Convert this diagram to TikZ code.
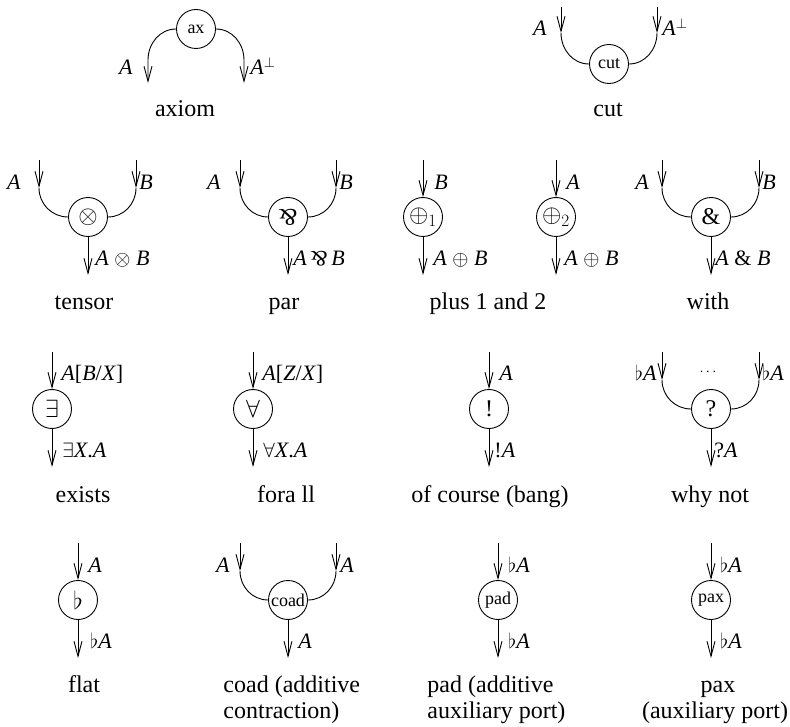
\documentclass[tikz,border=0pt]{standalone}
\usepackage{fontspec}
\setmainfont{Liberation Serif}
\usetikzlibrary{arrows.meta}
\newcommand\iA{\textit{A}}
\newcommand\iB{\textit{B}}
\newcommand\iX{\textit{X}}
\newcommand\iZ{\textit{Z}}
\newcommand\parrsym{\rotatebox[origin=c]{180}{\&}}
\newcommand\flt{$\flat$}
\begin{document}
\begin{tikzpicture}[x=1pt,y=1pt,line width=0.9pt,
  gate/.style={circle,draw,minimum size=39pt,inner sep=0pt,font=\fontsize{24}{26}\selectfont},
  wgate/.style={gate,font=\fontsize{18}{20}\selectfont},
  lbl/.style={inner sep=0pt,font=\fontsize{22}{24}\selectfont},
  captxt/.style={inner sep=0pt,font=\fontsize{24}{26}\selectfont},
  arr/.style={-{Straight Barb[length=15pt,width=8pt]}}
]
\useasboundingbox (0,0) rectangle (790,-727);

% ---------- axiom ----------
\node[wgate] (ax) at (196,-29) {ax};
\coordinate (axL) at (148,-60); \coordinate (axLt) at (148,-83);
\coordinate (axR) at (244,-60); \coordinate (axRt) at (244,-83);
\draw[arr] (ax.west) to[out=180,in=90] (axL) -- (axLt);
\draw[arr] (ax.east) to[out=0,in=90] (axR) -- (axRt);
\node[lbl,anchor=base] (axlA) at (126,-75) {\iA};
\node[lbl,anchor=base west] (axlB) at (250,-75) {\iA$^{\perp}$};
\node[captxt,anchor=base] (axcap) at (185,-117) {axiom};

% ---------- cut ----------
\node[wgate] (cut) at (609,-64) {cut};
\coordinate (cutLi) at (561,-7); \coordinate (cutLt) at (561,-33);
\coordinate (cutRi) at (657,-7); \coordinate (cutRt) at (657,-33);
\draw[arr] (cutLi) -- (cutLt);
\draw (cutLt) to[out=-90,in=180] (cut.west);
\draw[arr] (cutRi) -- (cutRt);
\draw (cutRt) to[out=-90,in=0] (cut.east);
\node[lbl,anchor=base] (cutlA) at (540,-36) {\iA};
\node[lbl,anchor=base west] (cutlB) at (662,-36) {\iA$^{\perp}$};
\node[captxt,anchor=base] (cutcap) at (608,-117) {cut};

% ---------- tensor ----------
\node[gate] (ten) at (88,-217) {$\otimes$};
\coordinate (tenLi) at (39,-160); \coordinate (tenLt) at (39,-188);
\coordinate (tenRi) at (136,-160); \coordinate (tenRt) at (136,-188);
\coordinate (tenO) at (88,-275);
\draw[arr] (tenLi) -- (tenLt);
\draw (tenLt) to[out=-90,in=180] (ten.west);
\draw[arr] (tenRi) -- (tenRt);
\draw (tenRt) to[out=-90,in=0] (ten.east);
\draw[arr] (ten.south) -- (tenO);
\node[lbl,anchor=base] (tenlA) at (14,-190) {\iA};
\node[lbl,anchor=base west] (tenlB) at (139,-190) {\iB};
\node[lbl,anchor=base west] (tenlO) at (95,-266) {\iA\ $\otimes$\ \iB};
\node[captxt,anchor=base] (tencap) at (84,-310) {tensor};

% ---------- par ----------
\node[gate] (par) at (288,-217) {\parrsym};
\coordinate (parLi) at (240,-160); \coordinate (parLt) at (240,-188);
\coordinate (parRi) at (336,-160); \coordinate (parRt) at (336,-188);
\coordinate (parO) at (288,-275);
\draw[arr] (parLi) -- (parLt);
\draw (parLt) to[out=-90,in=180] (par.west);
\draw[arr] (parRi) -- (parRt);
\draw (parRt) to[out=-90,in=0] (par.east);
\draw[arr] (par.south) -- (parO);
\node[lbl,anchor=base] (parlA) at (214,-190) {\iA};
\node[lbl,anchor=base west] (parlB) at (339,-190) {\iB};
\node[lbl,anchor=base west] (parlO) at (293,-266) {\iA\,\parrsym\,\iB};
\node[captxt,anchor=base] (parcap) at (284,-310) {par};

% ---------- plus 1 ----------
\node[gate] (pl1) at (423,-217) {$\oplus_1$};
\coordinate (pl1i) at (423,-160);
\coordinate (pl1O) at (423,-275);
\draw[arr] (pl1i) -- (pl1.north);
\draw[arr] (pl1.south) -- (pl1O);
\node[lbl,anchor=base west] (pl1lB) at (434,-190) {\iB};
\node[lbl,anchor=base west] (pl1lO) at (433,-266) {\iA\ $\oplus$\ \iB};

% ---------- plus 2 ----------
\node[gate] (pl2) at (556,-217) {$\oplus_2$};
\coordinate (pl2i) at (556,-160);
\coordinate (pl2O) at (556,-275);
\draw[arr] (pl2i) -- (pl2.north);
\draw[arr] (pl2.south) -- (pl2O);
\node[lbl,anchor=base west] (pl2lA) at (566,-190) {\iA};
\node[lbl,anchor=base west] (pl2lO) at (564,-266) {\iA\ $\oplus$\ \iB};
\node[captxt,anchor=base] (plcap) at (488,-310) {plus 1 and 2};

% ---------- with ----------
\node[gate] (with) at (711,-217) {\&};
\coordinate (wLi) at (662,-160); \coordinate (wLt) at (662,-188);
\coordinate (wRi) at (759,-160); \coordinate (wRt) at (759,-188);
\coordinate (wO) at (711,-275);
\draw[arr] (wLi) -- (wLt);
\draw (wLt) to[out=-90,in=180] (with.west);
\draw[arr] (wRi) -- (wRt);
\draw (wRt) to[out=-90,in=0] (with.east);
\draw[arr] (with.south) -- (wO);
\node[lbl,anchor=base] (wlA) at (642,-190) {\iA};
\node[lbl,anchor=base west] (wlB) at (762,-190) {\iB};
\node[lbl,anchor=base west] (wlO) at (715,-266) {\iA\ \&\ \iB};
\node[captxt,anchor=base] (wcap) at (708,-310) {with};

% ---------- exists ----------
\node[gate] (ex) at (52,-409) {$\exists$};
\coordinate (exi) at (52,-352);
\coordinate (exO) at (52,-467);
\draw[arr] (exi) -- (ex.north);
\draw[arr] (ex.south) -- (exO);
\node[lbl,anchor=base west] (exlI) at (61,-381) {\iA[\iB/\iX]};
\node[lbl,anchor=base west] (exlO) at (62,-457) {$\exists$\iX.\iA};
\node[captxt,anchor=base] (excap) at (83,-502) {exists};

% ---------- forall ----------
\node[gate] (fa) at (253,-409) {$\forall$};
\coordinate (fai) at (253,-352);
\coordinate (faO) at (253,-467);
\draw[arr] (fai) -- (fa.north);
\draw[arr] (fa.south) -- (faO);
\node[lbl,anchor=base west] (falI) at (262,-381) {\iA[\iZ/\iX]};
\node[lbl,anchor=base west] (falO) at (263,-457) {$\forall$\iX.\iA};
\node[captxt,anchor=base] (facap) at (286,-502) {fora ll};

% ---------- of course ----------
\node[gate] (bang) at (489,-409) {!};
\coordinate (bangi) at (489,-352);
\coordinate (bangO) at (489,-467);
\draw[arr] (bangi) -- (bang.north);
\draw[arr] (bang.south) -- (bangO);
\node[lbl,anchor=base west] (banglI) at (499,-381) {\iA};
\node[lbl,anchor=base west] (banglO) at (494,-457) {!\iA};
\node[captxt,anchor=base] (bangcap) at (490,-502) {of course (bang)};

% ---------- why not ----------
\node[gate] (wn) at (711,-409) {?};
\coordinate (wnLi) at (662,-352); \coordinate (wnLt) at (662,-380);
\coordinate (wnRi) at (759,-352); \coordinate (wnRt) at (759,-380);
\coordinate (wnO) at (711,-467);
\draw[arr] (wnLi) -- (wnLt);
\draw (wnLt) to[out=-90,in=180] (wn.west);
\draw[arr] (wnRi) -- (wnRt);
\draw (wnRt) to[out=-90,in=0] (wn.east);
\draw[arr] (wn.south) -- (wnO);
\node[lbl,anchor=base east] (wnlL) at (657,-381) {\flt\iA};
\node[lbl,anchor=base west] (wnlR) at (762,-381) {\flt\iA};
\node[inner sep=0pt,font=\fontsize{15}{16}\selectfont] (wndots) at (708,-372) {$\cdots$};
\node[lbl,anchor=base west] (wnlO) at (714,-457) {?\iA};
\node[captxt,anchor=base] (wncap) at (710,-502) {why not};

% ---------- flat ----------
\node[gate] (fl) at (78,-600) {\flt};
\coordinate (fli) at (78,-543);
\coordinate (flO) at (78,-658);
\draw[arr] (fli) -- (fl.north);
\draw[arr] (fl.south) -- (flO);
\node[lbl,anchor=base west] (fllI) at (88,-572) {\iA};
\node[lbl,anchor=base west] (fllO) at (90,-648) {\flt\iA};
\node[captxt,anchor=base] (flcap) at (84,-692) {flat};

% ---------- coad ----------
\node[wgate] (coad) at (288,-600) {coad};
\coordinate (coLi) at (240,-543); \coordinate (coLt) at (240,-571);
\coordinate (coRi) at (336,-543); \coordinate (coRt) at (336,-571);
\coordinate (coO) at (288,-658);
\draw[arr] (coLi) -- (coLt);
\draw (coLt) to[out=-90,in=180] (coad.west);
\draw[arr] (coRi) -- (coRt);
\draw (coRt) to[out=-90,in=0] (coad.east);
\draw[arr] (coad.south) -- (coO);
\node[lbl,anchor=base] (colL) at (223,-572) {\iA};
\node[lbl,anchor=base west] (colR) at (340,-572) {\iA};
\node[lbl,anchor=base west] (colO) at (298,-648) {\iA};
\node[captxt,anchor=base west] (cocap1) at (223,-692) {coad (additive};
\node[captxt,anchor=base west] (cocap2) at (223,-718) {contraction)};

% ---------- pad ----------
\node[wgate] (pad) at (498,-600) {pad};
\coordinate (padi) at (498,-543);
\coordinate (padO) at (498,-658);
\draw[arr] (padi) -- (pad.north);
\draw[arr] (pad.south) -- (padO);
\node[lbl,anchor=base west] (padlI) at (508,-572) {\flt\iA};
\node[lbl,anchor=base west] (padlO) at (508,-648) {\flt\iA};
\node[captxt,anchor=base west] (padcap1) at (427,-692) {pad (additive};
\node[captxt,anchor=base west] (padcap2) at (427,-718) {auxiliary port)};

% ---------- pax ----------
\node[wgate] (pax) at (711,-600) {pax};
\coordinate (paxi) at (711,-543);
\coordinate (paxO) at (711,-658);
\draw[arr] (paxi) -- (pax.north);
\draw[arr] (pax.south) -- (paxO);
\node[lbl,anchor=base west] (paxlI) at (720,-572) {\flt\iA};
\node[lbl,anchor=base west] (paxlO) at (720,-648) {\flt\iA};
\node[captxt,anchor=base] (paxcap1) at (718,-692) {pax};
\node[captxt,anchor=base] (paxcap2) at (715,-718) {(auxiliary port)};
\end{tikzpicture}
\end{document}
